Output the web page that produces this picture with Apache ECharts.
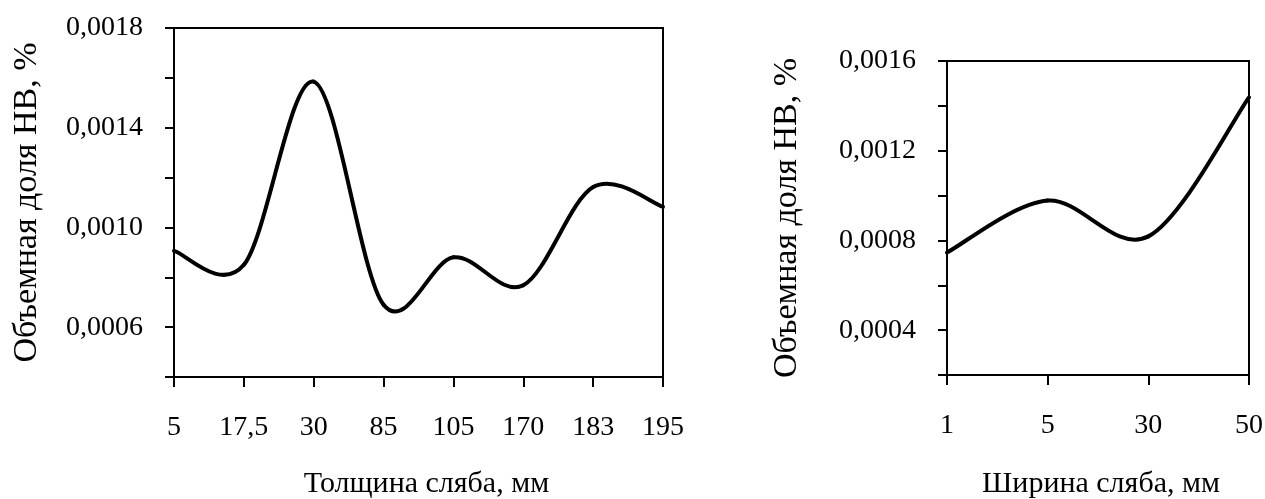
<!DOCTYPE html>
<html>
<head>
<meta charset="utf-8">
<script src="https://cdn.jsdelivr.net/npm/echarts@6/dist/echarts.min.js"></script>
<style>
html,body{margin:0;padding:0;background:#fff;}
#chart{width:1265px;height:499px;}
</style>
</head>
<body>
<div id="chart"></div>
<script>
// Left chart: slab thickness
const thicknessCategories = ['5', '17,5', '30', '85', '105', '170', '183', '195'];
const thicknessValues = [0.000906, 0.000850, 0.001585, 0.000690, 0.000880, 0.000768, 0.001162, 0.001083];
// Right chart: slab width
const widthCategories = ['1', '5', '30', '50'];
const widthValues = [0.000746, 0.000978, 0.000818, 0.001438];

const leftYLabelsShown = [6, 10, 14, 18];   // in units of 0.0001
const rightYLabelsShown = [4, 8, 12, 16];

const yName = 'Объемная доля НВ, %';
const xNameLeft = 'Толщина сляба, мм';
const xNameRight = 'Ширина сляба, мм';

const FONT = '"Liberation Serif", "Times New Roman", serif';
const fsTick = 28;
const fsXName = 30;
const fsYName = 34;

function fmt(shown) {
  return function (v) {
    const n = Math.round(v * 10000);
    return shown.indexOf(n) >= 0 ? v.toFixed(4).replace('.', ',') : '';
  };
}

// Smooth curve (Catmull-Rom style Bezier, like spreadsheet "smoothed line"),
// each segment drawn between data points mapped through the axes.
function smoothRenderer(values) {
  return function (params, api) {
    const i = params.dataIndex;
    const n = values.length;
    if (i >= n - 1) return null;
    const P = function (k) {
      const kk = Math.max(0, Math.min(n - 1, k));
      return api.coord([kk, values[kk]]);
    };
    const p0 = P(i - 1), p1 = P(i), p2 = P(i + 1), p3 = P(i + 2);
    const cp1 = [p1[0] + (p2[0] - p0[0]) / 6, p1[1] + (p2[1] - p0[1]) / 6];
    const cp2 = [p2[0] - (p3[0] - p1[0]) / 6, p2[1] - (p3[1] - p1[1]) / 6];
    return {
      type: 'bezierCurve',
      shape: { x1: p1[0], y1: p1[1], x2: p2[0], y2: p2[1], cpx1: cp1[0], cpy1: cp1[1], cpx2: cp2[0], cpy2: cp2[1] },
      style: { stroke: '#000', lineWidth: 4, fill: null, lineCap: 'round', lineJoin: 'round' },
      silent: true
    };
  };
}

const axisLineStyle = { show: true, lineStyle: { color: '#000', width: 2 } };
const tickStyle = { show: true, inside: false, lineStyle: { color: '#000', width: 2 } };

const chart = echarts.init(document.getElementById('chart'), null, { renderer: 'canvas' });
chart.setOption({
  backgroundColor: '#fff',
  animation: false,
  grid: [
    { left: 174, top: 28, width: 489, height: 349, show: true, borderColor: '#000', borderWidth: 2, containLabel: false, outerBoundsMode: 'none' },
    { left: 947, top: 61, width: 302, height: 314, show: true, borderColor: '#000', borderWidth: 2, containLabel: false, outerBoundsMode: 'none' }
  ],
  xAxis: [
    {
      gridIndex: 0, type: 'category', data: thicknessCategories, boundaryGap: false,
      axisLine: axisLineStyle, axisTick: Object.assign({ length: 10 }, tickStyle),
      axisLabel: { color: '#000', fontFamily: FONT, fontSize: fsTick, margin: 37 },
      splitLine: { show: false },
      name: xNameLeft, nameLocation: 'middle', nameGap: 92,
      nameTextStyle: { color: '#000', fontFamily: FONT, fontSize: fsXName, padding: [0, 0, 0, 16] }
    },
    {
      gridIndex: 1, type: 'category', data: widthCategories, boundaryGap: false,
      axisLine: axisLineStyle, axisTick: Object.assign({ length: 10 }, tickStyle),
      axisLabel: { color: '#000', fontFamily: FONT, fontSize: fsTick, margin: 37 },
      splitLine: { show: false },
      name: xNameRight, nameLocation: 'middle', nameGap: 94,
      nameTextStyle: { color: '#000', fontFamily: FONT, fontSize: fsXName, padding: [0, 0, 0, 6] }
    }
  ],
  yAxis: [
    {
      gridIndex: 0, type: 'value', min: 0.0004, max: 0.0018, interval: 0.0002,
      axisLine: axisLineStyle, axisTick: Object.assign({ length: 9 }, tickStyle),
      axisLabel: { color: '#000', fontFamily: FONT, fontSize: fsTick, margin: 31, formatter: fmt(leftYLabelsShown) },
      splitLine: { show: false },
      name: yName, nameLocation: 'middle', nameGap: 130,
      nameTextStyle: { color: '#000', fontFamily: FONT, fontSize: fsYName }
    },
    {
      gridIndex: 1, type: 'value', min: 0.0002, max: 0.0016, interval: 0.0002,
      axisLine: axisLineStyle, axisTick: Object.assign({ length: 9 }, tickStyle),
      axisLabel: { color: '#000', fontFamily: FONT, fontSize: fsTick, margin: 31, formatter: fmt(rightYLabelsShown) },
      splitLine: { show: false },
      name: yName, nameLocation: 'middle', nameGap: 143,
      nameTextStyle: { color: '#000', fontFamily: FONT, fontSize: fsYName }
    }
  ],
  series: [
    {
      type: 'custom', coordinateSystem: 'cartesian2d', xAxisIndex: 0, yAxisIndex: 0,
      data: thicknessValues.map(function (v, i) { return [i, v]; }),
      encode: { x: 0, y: 1 },
      renderItem: smoothRenderer(thicknessValues)
    },
    {
      type: 'custom', coordinateSystem: 'cartesian2d', xAxisIndex: 1, yAxisIndex: 1,
      data: widthValues.map(function (v, i) { return [i, v]; }),
      encode: { x: 0, y: 1 },
      renderItem: smoothRenderer(widthValues)
    }
  ]
});
</script>
</body>
</html>
